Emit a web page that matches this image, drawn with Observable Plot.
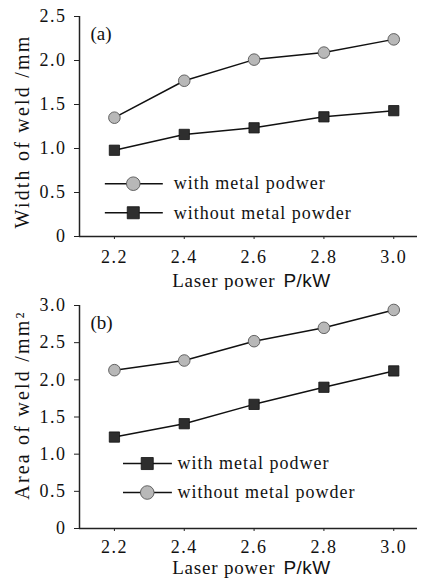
<!DOCTYPE html>
<html>
<head>
<meta charset="utf-8">
<script src="https://cdn.jsdelivr.net/npm/d3@7"></script>
<script src="https://cdn.jsdelivr.net/npm/@observablehq/plot@0.6"></script>
<style>
  html, body { margin: 0; padding: 0; background: #fff; }
  #chart { width: 425px; }
  #chart svg { display: block; }
  g[aria-label="x-axis tick label"] text, g[aria-label="y-axis tick label"] text { letter-spacing: 1.5px; }
  text[aria-label="legend-text"] { letter-spacing: 1px; }
  text[aria-label="ylabel"] { letter-spacing: 2.2px; }
  text[aria-label="xlabel"] { letter-spacing: 0.8px; }
</style>
</head>
<body>
<div id="chart"></div>
<script>
// ---- data ----
const powers = [2.2, 2.4, 2.6, 2.8, 3.0];
const widthWithPowder = [1.35, 1.77, 2.01, 2.09, 2.24];
const widthWithoutPowder = [0.98, 1.16, 1.235, 1.36, 1.43];
const areaWithPowder = [1.23, 1.41, 1.67, 1.90, 2.12];
const areaWithoutPowder = [2.13, 2.26, 2.52, 2.70, 2.94];
const xTicks = [2.2, 2.4, 2.6, 2.8, 3.0];
const widthTicks = [0, 0.5, 1.0, 1.5, 2.0, 2.5];
const areaTicks = [0, 0.5, 1.0, 1.5, 2.0, 2.5, 3.0];
const seriesNames = ["with metal podwer", "without metal powder"];
const xLabel = "Laser power";
const xUnit = "P/kW";

// ---- layout ----
const xDomain = [2.1, 3.068];
const fmt = d => d === 0 ? "0" : d.toFixed(1);
const circleStyle = {symbol: "circle", fill: "#b8b8b8", stroke: "#555", strokeWidth: 0.9};
const squareStyle = {symbol: "square", fill: "#2e2e2e", stroke: "#111", strokeWidth: 0.8};

function panel({height, marginTop, marginBottom, yDomain, yTicks, yLabel, tag, tickPadding,
                circleVals, squareVals, circleName, squareName, legend, yLabelDy, xLabelDy}) {
  const circ = powers.map((p, i) => ({p, v: circleVals[i]}));
  const sq = powers.map((p, i) => ({p, v: squareVals[i]}));
  const leg = [
    {name: legend.topIsCircle ? circleName : squareName, y: legend.y[0], st: legend.topIsCircle ? circleStyle : squareStyle},
    {name: legend.topIsCircle ? squareName : circleName, y: legend.y[1], st: legend.topIsCircle ? squareStyle : circleStyle}
  ];
  const chart = Plot.plot({
    width: 425, height, marginLeft: 79, marginRight: 8, marginTop, marginBottom,
    style: {fontFamily: "'Liberation Serif', 'Times New Roman', serif", fontSize: "18px", color: "#111", background: "#fff"},
    x: {domain: xDomain},
    y: {domain: yDomain},
    marks: [
      Plot.axisX({ticks: xTicks, tickFormat: d => d.toFixed(1), tickSize: 3, tickPadding, label: null, stroke: "#222"}),
      Plot.axisY({ticks: yTicks, tickFormat: fmt, tickSize: 5, tickPadding: 8, label: null, stroke: "#222"}),
      Plot.ruleX([xDomain[0]], {stroke: "#222", strokeWidth: 1.5}),
      Plot.ruleY([yDomain[0]], {stroke: "#222", strokeWidth: 1.5}),
      Plot.line(circ, {x: "p", y: "v", stroke: "#111", strokeWidth: 1.5}),
      Plot.line(sq, {x: "p", y: "v", stroke: "#111", strokeWidth: 1.5}),
      Plot.dot(circ, {x: "p", y: "v", r: 5.8, ...circleStyle}),
      Plot.dot(sq, {x: "p", y: "v", r: 5.8, ...squareStyle}),
      // legend
      Plot.ruleY(leg, {y: "y", x1: legend.x1, x2: legend.x2, stroke: "#111", strokeWidth: 1.5}),
      Plot.dot([leg.find(d => d.st === circleStyle)], {x: legend.xm, y: "y", r: 6.8, ...circleStyle}),
      Plot.dot([leg.find(d => d.st === squareStyle)], {x: legend.xm, y: "y", r: 6.8, ...squareStyle}),
      Plot.text(leg, {x: legend.xt, y: "y", text: "name", textAnchor: "start", fontSize: 18, ariaLabel: () => "legend-text", fill: "#111"}),
      // panel tag
      Plot.text([tag], {frameAnchor: "top-left", dx: 11, dy: 17, lineAnchor: "middle", textAnchor: "start", fontSize: 19, fill: "#111"}),
      // y label
      Plot.text([yLabel], {frameAnchor: "left", textAnchor: "middle", lineAnchor: "middle", rotate: -90, dx: -57, dy: yLabelDy, fontSize: 20, ariaLabel: () => "ylabel", fill: "#111"}),
      // x label
      Plot.text([xLabel], {frameAnchor: "bottom", textAnchor: "middle", dx: 3, dy: xLabelDy, lineAnchor: "middle", fontSize: 19, ariaLabel: () => "xlabel", fill: "#111"})
    ]
  });
  // append unit in sans-serif
  const t = d3.select(chart).selectAll("text").filter(function() { return this.textContent === xLabel; });
  t.text(null);
  t.append("tspan").text(xLabel);
  t.append("tspan").attr("dx", 8).style("font-family", "'Liberation Sans', Arial, sans-serif").style("letter-spacing", "0.5px").text(xUnit);
  return chart;
}

const a = panel({
  height: 290, marginTop: 16, marginBottom: 54, tickPadding: 11,
  yDomain: [0, 2.5], yTicks: widthTicks, yLabel: "Width of weld /mm", tag: "(a)",
  circleVals: widthWithPowder, squareVals: widthWithoutPowder,
  circleName: seriesNames[0], squareName: seriesNames[1],
  legend: {topIsCircle: true, x1: 2.174, x2: 2.34, xm: 2.254, xt: 2.37, y: [0.60, 0.27]},
  yLabelDy: 5, xLabelDy: 44
});
const b = panel({
  height: 289, marginTop: 15, marginBottom: 51, tickPadding: 9,
  yDomain: [0, 3.0], yTicks: areaTicks, yLabel: "Area of weld /mm\u00B2", tag: "(b)",
  circleVals: areaWithoutPowder, squareVals: areaWithPowder,
  circleName: seriesNames[1], squareName: seriesNames[0],
  legend: {topIsCircle: false, x1: 2.226, x2: 2.366, xm: 2.294, xt: 2.381, y: [0.874, 0.484]},
  yLabelDy: -12, xLabelDy: 39
});
document.getElementById("chart").append(a, b);
</script>
</body>
</html>
